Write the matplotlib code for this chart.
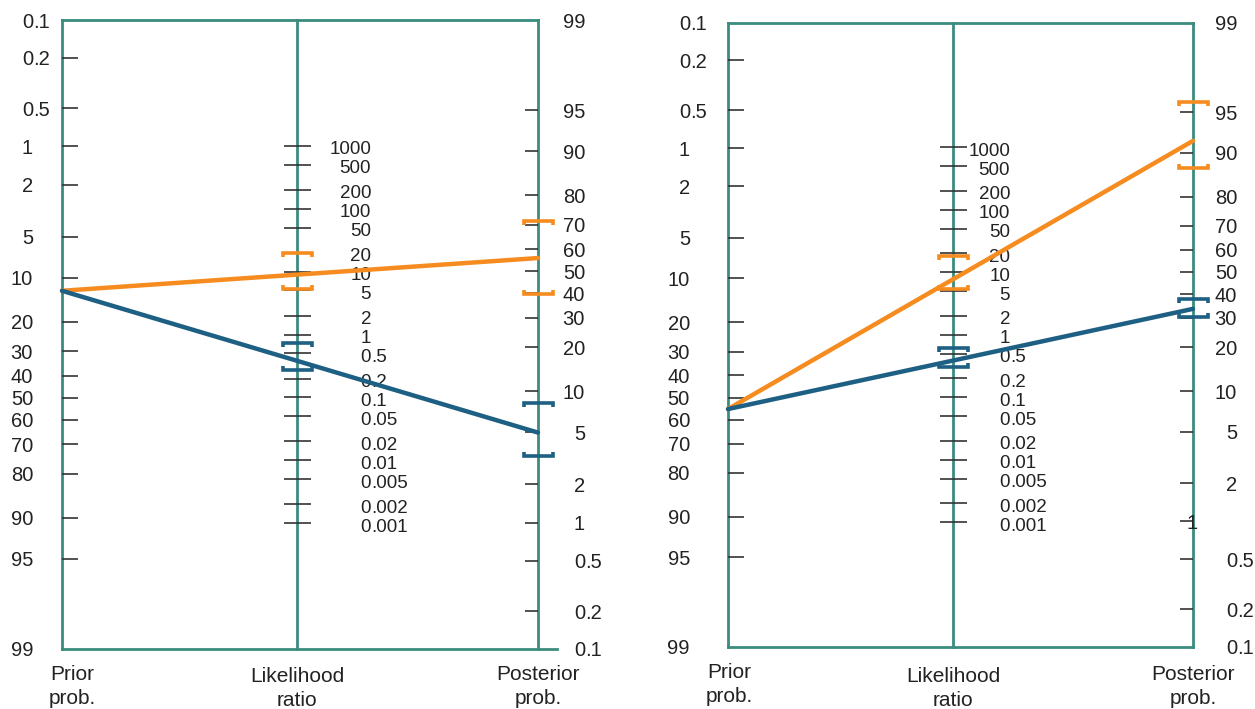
import numpy as np
import matplotlib.pyplot as plt

plt.rcParams['font.family'] = ['Liberation Sans', 'DejaVu Sans']

# --- datos ---
prob_values = [0.1, 0.2, 0.5, 1, 2, 5, 10, 20, 30, 40, 50, 60, 70, 80, 90, 95, 99]
prob_labels = ['0.1', '0.2', '0.5', '1', '2', '5', '10', '20', '30', '40',
               '50', '60', '70', '80', '90', '95', '99']
lr_values = [1000, 500, 200, 100, 50, 20, 10, 5, 2, 1,
             0.5, 0.2, 0.1, 0.05, 0.02, 0.01, 0.005, 0.002, 0.001]
lr_labels = ['1000', '500', '200', '100', '50', '20', '10', '5', '2', '1',
             '0.5', '0.2', '0.1', '0.05', '0.02', '0.01', '0.005', '0.002', '0.001']
axis_names_top = ['Prior', 'Likelihood', 'Posterior']
axis_names_bottom = ['prob.', 'ratio', 'prob.']

# panel izquierdo: [test positivo, test negativo]
left_prior = 12.4
left_lr = [9.0, 0.37]
left_lr_ci = [(5.24, 19.5), (0.274, 0.726)]
left_post_ci = [(39.8, 71.5), (3.3, 8.2)]

# panel derecho
right_prior = 55.3
right_lr = [9.05, 0.41]
right_lr_ci = [(5.34, 18.4), (0.302, 0.608)]
right_post_ci = [(87.1, 95.8), (30.5, 37.7)]

series_colors = ['#f68b1f', '#1e5f84']
frame_color = '#3b8c7f'
tick_color = '#333333'

W, H = 1255, 709
fig = plt.figure(figsize=(W / 100, H / 100), dpi=100, facecolor='white')


def logit(p):
    return np.log(p / (1 - p))


LO = logit(0.001)
HI = logit(0.99)


def u_prior(p):
    return logit(np.asarray(p, dtype=float) / 100)


def u_post(p):
    return LO + HI - logit(np.asarray(p, dtype=float) / 100)


def u_lr(r):
    return (LO + HI - np.log(np.asarray(r, dtype=float))) / 2


def dec_label(ax, x, y, s, off_x, off_y, size):
    # etiquetas alineadas por el punto decimal
    ent, _, frac = s.partition('.')
    ax.annotate(ent, (x, y), xytext=(off_x, off_y), textcoords='offset pixels',
                ha='right', va='center_baseline', fontsize=size, color='#222222',
                annotation_clip=False, zorder=3)
    if frac:
        ax.annotate('.' + frac, (x, y), xytext=(off_x, off_y), textcoords='offset pixels',
                    ha='left', va='center_baseline', fontsize=size, color='#222222',
                    annotation_clip=False, zorder=3)


def draw_panel(rect, lr_x, prior, lrs, lr_cis, post_cis, cfg):
    ax = fig.add_axes(rect)
    ax.set_xlim(0, 1)
    ax.set_ylim(HI, LO)
    ax.axis('off')
    dx = 1 / (rect[2] * W)
    dy = (HI - LO) / (rect[3] * H)

    # marco
    ax.plot([0, 1], [LO, LO], color=frame_color, lw=2, clip_on=False, zorder=1)
    ax.plot([0, 1 + cfg['bottom_ext'] * dx], [HI, HI], color=frame_color, lw=2,
            clip_on=False, zorder=1)
    for xv in [0, lr_x, 1]:
        ax.plot([xv, xv], [LO, HI], color=frame_color, lw=2, clip_on=False, zorder=1)

    # escalas
    inner = prob_values[1:-1]
    ax.hlines(u_prior(inner), -10 * dx, 16 * dx, color=tick_color, lw=1.2, zorder=2)
    ax.hlines(u_post(inner), 1 - 13 * dx, 1 + 13 * dx, color=tick_color, lw=1.2, zorder=2)
    ax.hlines(u_lr(lr_values), lr_x - 13 * dx, lr_x + 14 * dx, color=tick_color, lw=1.2, zorder=2)

    for v, s in zip(prob_values, prob_labels):
        dec_label(ax, 0, u_prior(v), s, cfg['prior_off'], 0, 14.5)
        off = cfg['post_shift'].get(s, cfg['post_off'])
        dec_label(ax, 1, u_post(v), s, off, 0, 14.5)
    for v, s in zip(lr_values, lr_labels):
        dec_label(ax, lr_x, u_lr(v), s, cfg['lr_off'], -2, 13.5)

    # nombres de los ejes
    for i, xv in enumerate([0, lr_x, 1]):
        xo = cfg['name_dx'][i]
        yo = cfg['name_dy'][i]
        ax.annotate(axis_names_top[i], (xv, HI), xytext=(xo, yo), textcoords='offset pixels',
                    ha='center', va='center_baseline', fontsize=15, color='#222222',
                    annotation_clip=False)
        ax.annotate(axis_names_bottom[i], (xv, HI), xytext=(xo, yo - 24), textcoords='offset pixels',
                    ha='center', va='center_baseline', fontsize=15, color='#222222',
                    annotation_clip=False)

    # líneas del nomograma
    for lr, color in zip(lrs, series_colors):
        u0 = u_prior(prior)
        u1 = LO + HI - (u0 + np.log(lr))
        ax.plot([0, 1], [u0, u1], color=color, lw=3.2, solid_capstyle='round',
                clip_on=False, zorder=4)

    # intervalos de confianza
    def bracket(xc, u_lo, u_hi, color):
        w = 14.5 * dx
        leg = 4 * dy
        for u, s in [(min(u_lo, u_hi), 1), (max(u_lo, u_hi), -1)]:
            ax.plot([xc - w, xc - w, xc + w, xc + w], [u + s * leg, u, u, u + s * leg],
                    color=color, lw=2.6, solid_capstyle='butt', solid_joinstyle='miter',
                    clip_on=False, zorder=5)

    for ci, color in zip(lr_cis, series_colors):
        bracket(lr_x, u_lr(ci[0]), u_lr(ci[1]), color)
    for ci, color in zip(post_cis, series_colors):
        bracket(1, u_post(ci[0]), u_post(ci[1]), color)
    return ax


left_cfg = {'bottom_ext': 19, 'prior_off': -29, 'post_off': 47, 'post_shift': {},
            'lr_off': 74, 'name_dx': [10, 0, 0], 'name_dy': [-24, -25, -24]}
right_cfg = {'bottom_ext': 0, 'prior_off': -38, 'post_off': 44, 'post_shift': {'1': 5},
             'lr_off': 57, 'name_dx': [1, 0, 0], 'name_dy': [-23, -27, -26]}

draw_panel([62 / W, 1 - 649 / H, 476 / W, 629 / H], 0.494,
           left_prior, left_lr, left_lr_ci, left_post_ci, left_cfg)
draw_panel([728 / W, 1 - 647 / H, 465 / W, 624.5 / H], 0.484,
           right_prior, right_lr, right_lr_ci, right_post_ci, right_cfg)

fig.savefig('out.png', dpi=100, facecolor='white')
